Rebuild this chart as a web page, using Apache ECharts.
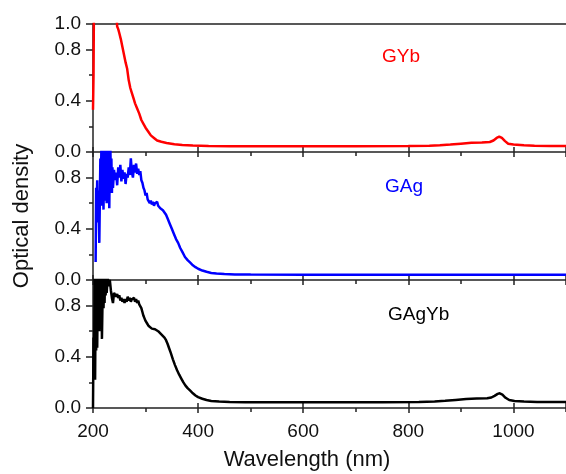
<!DOCTYPE html>
<html>
<head>
<meta charset="utf-8">
<script src="https://cdn.jsdelivr.net/npm/echarts@6/dist/echarts.min.js"></script>
<style>
  html, body { margin: 0; padding: 0; background: #fff; }
  #chart { width: 566px; height: 474px; }
</style>
</head>
<body>
<div id="chart"></div>
<script>
// GYb (red, top panel)
var gybX = [200, 201, 202, 203, 243, 246, 248, 250, 253, 256, 259, 262, 265, 268, 271, 274, 277, 280, 284, 288,
  292, 296, 300, 305, 310, 316, 322, 330, 340, 355, 370, 390, 420, 460, 520, 600, 700, 800, 840, 860,
  880, 900, 920, 940, 955, 962, 968, 973, 978, 984, 990, 1000, 1020, 1040, 1070, 1100];
var gybY = [0.33, 0.6, 1.3, 1.5, 1.2, 0.98, 0.96, 0.93, 0.88, 0.82, 0.76, 0.70, 0.65, 0.56, 0.50, 0.46, 0.42, 0.38, 0.34, 0.30,
  0.25, 0.22, 0.19, 0.16, 0.13, 0.11, 0.09, 0.08, 0.07, 0.06, 0.055, 0.05, 0.047, 0.045, 0.045, 0.045, 0.045, 0.046, 0.048, 0.052,
  0.058, 0.065, 0.072, 0.074, 0.078, 0.09, 0.11, 0.12, 0.11, 0.085, 0.065, 0.058, 0.052, 0.048, 0.046, 0.046];

// GAg (blue, middle panel)
var gagX = [205, 206, 207, 208, 209, 210, 211, 212, 213, 214, 215, 216, 217, 218, 219, 220, 221, 222, 223, 224,
  225, 226, 227, 228, 229, 230, 231, 232, 233, 234, 235, 236, 237, 238, 240, 242, 244, 246, 248, 250,
  252, 254, 256, 258, 260, 262, 264, 266, 268, 270, 272, 274, 276, 278, 280, 282, 284, 286, 288, 290,
  292, 294, 296, 298, 300, 302, 304, 306, 308, 310, 312, 314, 316, 318, 320, 322, 324, 326, 328, 330,
  333, 336, 339, 342, 346, 350, 354, 358, 362, 366, 370, 375, 380, 385, 390, 395, 400, 408, 416, 425,
  435, 450, 470, 500, 600, 700, 800, 900, 1000, 1100];
var gagY = [0.14, 0.72, 0.55, 0.78, 0.45, 0.70, 0.52, 0.29, 0.62, 0.95, 0.70, 1.05, 0.58, 1.05, 0.75, 0.55, 0.90, 0.62, 1.05, 0.80,
  0.95, 0.60, 1.05, 0.75, 1.05, 0.85, 0.56, 0.92, 1.05, 0.78, 0.95, 0.68, 0.88, 0.72, 0.86, 0.78, 0.84, 0.74, 0.88, 0.80,
  0.90, 0.77, 0.86, 0.79, 0.84, 0.75, 0.83, 0.80, 0.88, 0.82, 0.95, 0.84, 0.80, 0.90, 0.84, 0.91, 0.83, 0.87, 0.82, 0.85,
  0.78, 0.76, 0.72, 0.70, 0.66, 0.68, 0.63, 0.64, 0.60, 0.62, 0.59, 0.61, 0.58, 0.60, 0.59, 0.61, 0.58, 0.59, 0.56, 0.555,
  0.545, 0.53, 0.51, 0.48, 0.44, 0.40, 0.36, 0.32, 0.29, 0.25, 0.22, 0.18, 0.155, 0.135, 0.115, 0.10, 0.088, 0.074, 0.064, 0.055,
  0.05, 0.046, 0.043, 0.042, 0.041, 0.041, 0.041, 0.041, 0.041, 0.041];

// GAgYb (black, bottom panel)
var gagybX = [200, 201, 202, 203, 204, 205, 206, 207, 208, 209, 210, 211, 212, 213, 214, 215, 216, 217, 218, 219,
  220, 221, 222, 223, 224, 225, 226, 228, 230, 232, 234, 236, 238, 240, 242, 244, 246, 248, 250, 252,
  254, 256, 258, 260, 262, 264, 266, 268, 270, 272, 274, 276, 278, 280, 282, 284, 286, 288, 290, 292,
  294, 296, 298, 300, 303, 306, 309, 312, 315, 318, 321, 324, 327, 330, 333, 336, 339, 342, 345, 348,
  352, 356, 360, 364, 368, 372, 376, 380, 385, 390, 395, 400, 408, 416, 425, 440, 460, 490, 550, 650,
  750, 820, 850, 870, 890, 910, 930, 950, 958, 964, 970, 974, 979, 985, 992, 1002, 1020, 1045, 1070, 1100];
var gagybY = [0.0, 0.55, 0.25, 1.05, 0.22, 0.85, 0.45, 1.05, 0.47, 0.90, 0.62, 1.05, 0.60, 0.88, 1.05, 0.70, 1.05, 0.54, 0.80, 1.05,
  0.78, 0.95, 0.82, 1.05, 0.88, 1.0, 0.90, 1.02, 0.95, 1.0, 0.92, 0.86, 0.82, 0.90, 0.91, 0.87, 0.89, 0.86, 0.88, 0.84,
  0.86, 0.83, 0.85, 0.82, 0.85, 0.83, 0.87, 0.84, 0.86, 0.83, 0.85, 0.84, 0.86, 0.83, 0.85, 0.82, 0.84, 0.81, 0.80, 0.78,
  0.75, 0.72, 0.70, 0.68, 0.66, 0.64, 0.63, 0.62, 0.61, 0.615, 0.60, 0.60, 0.585, 0.575, 0.565, 0.55, 0.53, 0.50, 0.465, 0.43,
  0.38, 0.335, 0.295, 0.26, 0.23, 0.20, 0.175, 0.155, 0.135, 0.115, 0.098, 0.085, 0.072, 0.062, 0.055, 0.05, 0.047, 0.045, 0.044, 0.044,
  0.044, 0.046, 0.05, 0.056, 0.063, 0.07, 0.074, 0.076, 0.082, 0.095, 0.11, 0.115, 0.105, 0.08, 0.062, 0.055, 0.05, 0.047, 0.046, 0.046];

var seriesNames = ["GYb", "GAg", "GAgYb"];
var seriesColors = ["#ff0000", "#0000ff", "#000000"];

var FONT = "'Liberation Sans', Arial, sans-serif";
var AXIS_COLOR = "#222";

function zip(xs, ys) {
  return xs.map(function (x, i) { return [x, ys[i]]; });
}

var panels = [zip(gybX, gybY), zip(gagX, gagY), zip(gagybX, gagybY)];
var grids = [], xAxes = [], yAxes = [], series = [];

panels.forEach(function (data, g) {
  grids.push({ left: 93, right: -2, top: 24 + g * 128, height: 128 });
  var isLast = g === 2;
  // major ticks, outward (with labels on the last panel)
  xAxes.push({
    gridIndex: g, type: "value", min: 200, max: 1100, interval: 200, position: "bottom",
    axisLine: { lineStyle: { color: AXIS_COLOR, width: 1.5 } },
    axisTick: { length: 5, lineStyle: { color: AXIS_COLOR, width: 1.5 } },
    axisLabel: {
      show: isLast, fontSize: 19, fontFamily: FONT, color: "#111", margin: 14, showMaxLabel: false,
      formatter: function (v) { return String(v); }
    },
    splitLine: { show: false }
  });
  // major ticks, inward
  xAxes.push({
    gridIndex: g, type: "value", min: 200, max: 1100, interval: 200, position: "bottom",
    axisLine: { show: false },
    axisTick: { inside: true, length: 5, lineStyle: { color: AXIS_COLOR, width: 1.5 } },
    axisLabel: { show: false }, splitLine: { show: false }
  });
  // minor ticks
  xAxes.push({
    gridIndex: g, type: "value", min: 200, max: 1100, interval: 100, position: "bottom",
    axisLine: { show: false },
    axisTick: { length: 4, lineStyle: { color: AXIS_COLOR, width: 1.5 } },
    axisLabel: { show: false }, splitLine: { show: false }
  });
  yAxes.push({
    gridIndex: g, type: "value", min: 0, max: 1, interval: 0.4, position: "left",
    axisLine: { show: true, lineStyle: { color: AXIS_COLOR, width: 1.5 } },
    axisTick: { length: 7, lineStyle: { color: AXIS_COLOR, width: 1.5 } },
    axisLabel: {
      fontSize: 19, fontFamily: FONT, color: "#111", margin: 12,
      showMaxLabel: g === 0,
      formatter: function (v) { return v.toFixed(1); }
    },
    splitLine: { show: false }
  });
  yAxes.push({
    gridIndex: g, type: "value", min: 0, max: 1, interval: 0.2, position: "left",
    axisLine: { show: false },
    axisTick: { length: 4, lineStyle: { color: AXIS_COLOR, width: 1.5 } },
    axisLabel: { show: false }, splitLine: { show: false }
  });
  series.push({
    name: seriesNames[g], type: "line", xAxisIndex: g * 3, yAxisIndex: g * 2,
    data: data, showSymbol: false, clip: true,
    lineStyle: { color: seriesColors[g], width: 2.5 }
  });
});

// top border line of the upper panel
xAxes.push({
  gridIndex: 0, type: "value", min: 200, max: 1100, position: "top",
  axisLine: { lineStyle: { color: AXIS_COLOR, width: 1.5 } },
  axisTick: { show: false }, axisLabel: { show: false }, splitLine: { show: false }
});

var labelPos = [[382, 57], [385, 187], [388, 315]];

var chart = echarts.init(document.getElementById("chart"));
chart.setOption({
  animation: false,
  grid: grids,
  xAxis: xAxes,
  yAxis: yAxes,
  series: series,
  graphic: [
    {
      type: "text", x: 307, y: 460,
      style: { text: "Wavelength (nm)", fontSize: 22, fontFamily: FONT, fill: "#111", align: "center", verticalAlign: "middle" }
    },
    {
      type: "text", x: 22, y: 216, rotation: Math.PI / 2,
      style: { text: "Optical density", fontSize: 22, fontFamily: FONT, fill: "#111", align: "center", verticalAlign: "middle" }
    }
  ].concat(seriesNames.map(function (name, i) {
    return {
      type: "text", x: labelPos[i][0], y: labelPos[i][1],
      style: { text: name, fontSize: 19, fontFamily: FONT, fill: seriesColors[i], align: "left", verticalAlign: "middle" }
    };
  }))
});
</script>
</body>
</html>
